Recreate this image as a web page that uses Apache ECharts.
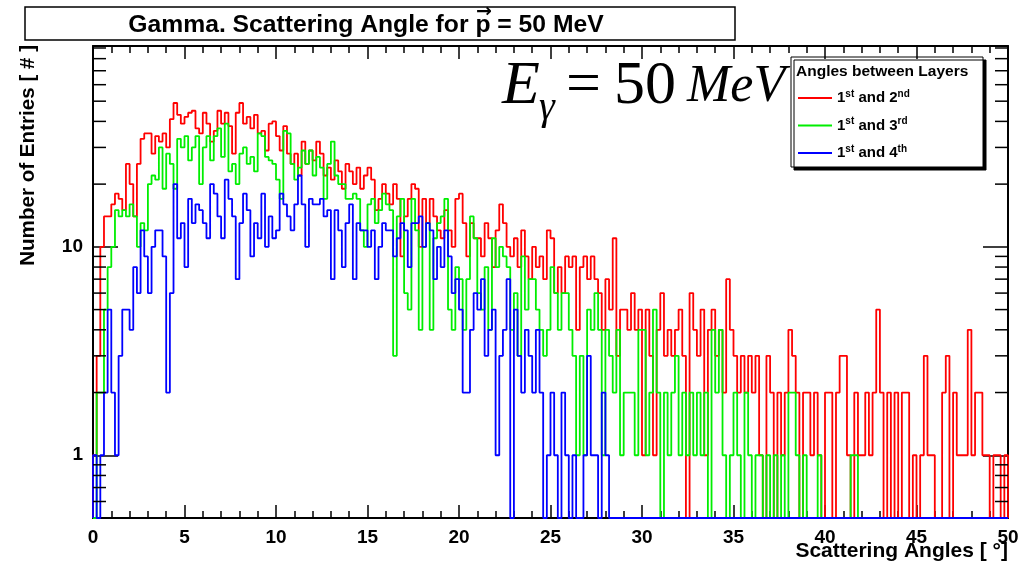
<!DOCTYPE html>
<html>
<head>
<meta charset="utf-8">
<script src="https://cdn.jsdelivr.net/npm/echarts@6/dist/echarts.min.js"></script>
<style>
html, body { margin: 0; padding: 0; background: #fff; }
#main { width: 1029px; height: 566px; }
</style>
</head>
<body>
<div id="main"></div>
<script>
// histogram binning: 250 bins of 0.2 deg over 0-50 deg
var angleMin = 0;
var angleMax = 50;
var binWidth = 0.2;
var yMin = 0.5;
var yMax = 92;

var seriesNames = ['1st and 2nd', '1st and 3rd', '1st and 4th'];

// entries per bin, layers 1-2
var counts12 = [
	1, 3, 10, 14, 14, 16, 18, 17, 15, 25,
	20, 14, 25, 33, 35, 35, 28, 34, 32, 35,
	30, 41, 49, 43, 39, 42, 44, 45, 37, 35,
	44, 39, 32, 36, 45, 39, 44, 38, 28, 44,
	49, 39, 42, 37, 43, 35, 36, 29, 39, 40,
	34, 29, 38, 28, 25, 28, 22, 32, 25, 29,
	26, 32, 28, 22, 24, 21, 26, 23, 19, 25,
	23, 20, 24, 19, 22, 24, 21, 15, 17, 20,
	18, 16, 20, 17, 9, 14, 17, 20, 19, 10,
	17, 13, 17, 14, 12, 11, 15, 12, 10, 17,
	18, 13, 9, 13, 11, 11, 9, 13, 11, 8,
	12, 16, 13, 10, 9, 11, 8, 12, 9, 7,
	10, 8, 9, 7, 12, 11, 6, 8, 6, 9,
	8, 9, 4, 8, 9, 7, 9, 7, 6, 4,
	7, 5, 11, 3, 5, 5, 4, 6, 4, 5,
	1, 5, 3, 1, 4, 6, 3, 4, 3, 4,
	5, 3, 0, 6, 4, 3, 5, 1, 4, 5,
	3, 4, 2, 7, 4, 3, 2, 3, 2, 3,
	2, 3, 1, 0, 3, 2, 0, 2, 1, 2,
	4, 3, 2, 0, 2, 2, 1, 2, 1, 0,
	2, 2, 0, 2, 3, 3, 1, 0, 2, 1,
	1, 2, 1, 2, 5, 2, 0, 2, 0, 2,
	0, 2, 2, 0, 1, 0, 1, 3, 1, 1,
	0, 0, 2, 3, 0, 2, 1, 1, 1, 4,
	1, 2, 2, 1, 1, 0, 1, 1, 0, 1
];

// entries per bin, layers 1-3
var counts13 = [
	0, 2, 2, 5, 8, 10, 15, 14, 15, 14,
	16, 14, 10, 13, 12, 20, 22, 21, 30, 19,
	28, 25, 19, 33, 30, 34, 26, 30, 34, 20,
	30, 34, 26, 34, 37, 27, 39, 23, 25, 20,
	28, 30, 25, 27, 23, 35, 34, 27, 26, 25,
	21, 17, 36, 35, 25, 21, 24, 29, 25, 29,
	22, 27, 24, 17, 25, 32, 22, 20, 20, 17,
	17, 18, 17, 12, 10, 16, 17, 13, 15, 18,
	16, 15, 3, 14, 17, 6, 5, 17, 12, 4,
	10, 13, 4, 11, 13, 14, 17, 5, 4, 8,
	7, 4, 7, 14, 11, 6, 5, 8, 4, 11,
	8, 10, 9, 8, 4, 6, 3, 9, 5, 7,
	7, 5, 4, 3, 4, 8, 6, 4, 6, 6,
	4, 3, 1, 3, 1, 5, 4, 6, 4, 1,
	4, 3, 2, 4, 1, 2, 2, 2, 1, 4,
	4, 1, 2, 5, 2, 0, 2, 1, 2, 3,
	1, 2, 1, 2, 1, 2, 1, 2, 0, 4,
	2, 4, 1, 0, 1, 2, 1, 0, 2, 1,
	0, 1, 1, 0, 1, 0, 1, 0, 1, 0,
	2, 2, 1, 0, 1, 0, 0, 0, 1, 0,
	0, 0, 0, 0, 0, 0, 0, 1, 1, 0,
	0, 0, 0, 0, 0, 0, 0, 0, 0, 0,
	0, 0, 0, 0, 0, 0, 0, 0, 0, 0,
	0, 0, 0, 0, 0, 0, 0, 0, 0, 0,
	0, 0, 0, 0, 0, 0, 0, 0, 0, 0
];

// entries per bin, layers 1-4
var counts14 = [
	1, 0, 1, 2, 5, 2, 1, 3, 5, 5,
	4, 8, 6, 12, 9, 6, 10, 12, 12, 9,
	2, 6, 20, 11, 13, 8, 17, 13, 16, 15,
	13, 11, 20, 18, 14, 11, 21, 17, 14, 7,
	13, 18, 15, 9, 13, 11, 18, 10, 14, 11,
	12, 18, 16, 14, 12, 16, 22, 16, 10, 17,
	16, 16, 17, 14, 15, 7, 15, 12, 8, 13,
	16, 7, 13, 12, 12, 10, 12, 7, 10, 13,
	12, 12, 9, 11, 13, 12, 8, 13, 13, 14,
	10, 13, 12, 7, 10, 8, 12, 9, 6, 7,
	5, 2, 2, 4, 6, 5, 7, 3, 4, 5,
	1, 3, 4, 7, 0, 5, 3, 2, 4, 3,
	2, 4, 2, 0, 1, 2, 1, 0, 2, 1,
	0, 1, 0, 0, 1, 3, 1, 1, 0, 2,
	1, 0, 0, 0, 0, 0, 0, 0, 0, 0,
	0, 0, 0, 0, 0, 0, 0, 0, 0, 0,
	0, 0, 0, 0, 0, 0, 0, 0, 0, 0,
	0, 0, 0, 0, 0, 0, 0, 0, 0, 0,
	0, 0, 0, 0, 0, 0, 0, 0, 0, 0,
	0, 0, 0, 0, 0, 0, 0, 0, 0, 0,
	0, 0, 0, 0, 0, 0, 0, 0, 0, 0,
	0, 0, 0, 0, 0, 0, 0, 0, 0, 0,
	0, 0, 0, 0, 0, 0, 0, 0, 0, 0,
	0, 0, 0, 0, 0, 0, 0, 0, 0, 0,
	0, 0, 0, 0, 0, 0, 0, 0, 0, 0
];

// log axis minor tick values (ROOT style 2..9 per decade)
var yMinorTicks = [0.6, 0.7, 0.8, 0.9, 2, 3, 4, 5, 6, 7, 8, 9, 20, 30, 40, 50, 60, 70, 80, 90];

var FONT = "'Liberation Sans', Arial, sans-serif";
var SERIF = "'Liberation Serif', 'Times New Roman', serif";

// outline of a histogram, empty bins drop to the bottom of the frame
function histLine(counts) {
	var pts = [[angleMin, yMin]];
	for (var i = 0; i < counts.length; i++) {
		pts.push([angleMin + i * binWidth, counts[i] > 0 ? counts[i] : yMin]);
	}
	var last = counts[counts.length - 1];
	pts.push([angleMax, last > 0 ? last : yMin]);
	pts.push([angleMax, yMin]);
	return pts;
}

function histSeries(name, counts, color) {
	return {
		name: name,
		type: 'line',
		step: 'end',
		data: histLine(counts),
		symbol: 'none',
		lineStyle: { color: color, width: 1.8 },
		itemStyle: { color: color },
		animation: false,
		z: 3
	};
}

// 1st -> 1{s|st}
function supText(name) {
	return name.replace(/(\d)(st|nd|rd|th)\b/g, '$1{s|$2}');
}

function xAxisCfg(pos, showLabel) {
	return {
		type: 'value',
		position: pos,
		min: angleMin,
		max: angleMax,
		interval: 5,
		axisLine: { show: true, onZero: false, lineStyle: { color: '#000', width: 2 } },
		axisTick: { inside: true, length: 13, lineStyle: { color: '#000', width: 1.5 } },
		minorTick: { show: true, splitNumber: 5, length: 7, lineStyle: { color: '#000', width: 1.5 } },
		axisLabel: {
			show: showLabel, color: '#000', fontFamily: FONT, fontWeight: 'bold',
			fontSize: 19, margin: 10
		},
		splitLine: { show: false },
		minorSplitLine: { show: false }
	};
}

function yAxisCfg(pos, showLabel) {
	return {
		type: 'log',
		logBase: 10,
		position: pos,
		min: yMin,
		max: yMax,
		axisLine: { show: true, onZero: false, lineStyle: { color: '#000', width: 2 } },
		axisTick: { inside: true, length: 25, lineStyle: { color: '#000', width: 1.5 } },
		axisLabel: {
			show: showLabel, showMinLabel: false, showMaxLabel: false,
			color: '#000', fontFamily: FONT, fontWeight: 'bold', fontSize: 19, margin: 10
		},
		splitLine: { show: false }
	};
}

// title split in pieces so the vector arrow can sit over the p
var titleFont = 'bold 24.7px ' + FONT;
var titleA = 'Gamma. Scattering Angle for ';
var titleP = 'p';
var titleB = ' = 50 MeV';
var mctx = document.createElement('canvas').getContext('2d');
mctx.font = titleFont;
var wA = mctx.measureText(titleA).width;
var wP = mctx.measureText(titleP).width;
var wB = mctx.measureText(titleB).width;
var titleX = 366 - (wA + wP + wB) / 2;

var chart = echarts.init(document.getElementById('main'));

chart.setOption({
	backgroundColor: '#fff',
	animation: false,
	grid: { left: 93, right: 21, top: 46, bottom: 48, containLabel: false },
	xAxis: [xAxisCfg('bottom', true), xAxisCfg('top', false)],
	yAxis: [yAxisCfg('left', true), yAxisCfg('right', false)],
	legend: {
		data: seriesNames,
		orient: 'vertical',
		left: 798,
		top: 89,
		padding: 0,
		itemGap: 9.5,
		itemWidth: 34,
		itemHeight: 2,
		icon: 'rect',
		selectedMode: false,
		formatter: supText,
		textStyle: {
			color: '#000', fontFamily: FONT, fontWeight: 'bold', fontSize: 15, lineHeight: 18,
			rich: {
				s: { fontFamily: FONT, fontWeight: 'bold', fontSize: 10, lineHeight: 10, verticalAlign: 'top', color: '#000' }
			}
		}
	},
	graphic: [
		// title box
		{ type: 'rect', shape: { x: 25, y: 7, width: 710, height: 33 }, style: { fill: '#fff', stroke: '#000', lineWidth: 1.5 } },
		{ type: 'text', x: titleX, y: 25, style: { text: titleA, font: titleFont, fill: '#000', align: 'left', verticalAlign: 'middle' } },
		{ type: 'text', x: titleX + wA, y: 25, style: { text: titleP, font: titleFont, fill: '#000', align: 'left', verticalAlign: 'middle' } },
		{ type: 'text', x: titleX + wA + wP / 2 + 1, y: 12, style: { text: '\u2192', font: "bold 19px 'DejaVu Sans', sans-serif", fill: '#000', align: 'center', verticalAlign: 'middle' } },
		{ type: 'text', x: titleX + wA + wP, y: 25, style: { text: titleB, font: titleFont, fill: '#000', align: 'left', verticalAlign: 'middle' } },
		// legend frame with ROOT shadow
		{ type: 'rect', shape: { x: 791, y: 57, width: 192, height: 110 }, style: { fill: '#fff', stroke: '#000', lineWidth: 1, shadowBlur: 0, shadowOffsetX: 3, shadowOffsetY: 3, shadowColor: '#000' } },
		{ type: 'text', x: 796, y: 72, style: { text: 'Angles between Layers', font: 'bold 15.5px ' + FONT, fill: '#000', align: 'left', verticalAlign: 'middle' } },
		// E_gamma = 50 MeV
		{ type: 'text', x: 502, y: 87, style: { text: 'E', font: 'italic 62px ' + SERIF, fill: '#000', align: 'left', verticalAlign: 'middle' } },
		{ type: 'text', x: 539, y: 108, style: { text: '\u03b3', font: 'italic 40px ' + SERIF, fill: '#000', align: 'left', verticalAlign: 'middle' } },
		{ type: 'text', x: 566, y: 87, style: { text: '=', font: '62px ' + SERIF, fill: '#000', align: 'left', verticalAlign: 'middle' } },
		{ type: 'text', x: 614, y: 87, style: { text: '50', font: '62px ' + SERIF, fill: '#000', align: 'left', verticalAlign: 'middle' } },
		{ type: 'text', x: 687, y: 87, style: { text: 'MeV', font: 'italic 52px ' + SERIF, fill: '#000', align: 'left', verticalAlign: 'middle' } },
		// axis titles
		{ type: 'text', x: 1008, y: 541, style: { text: 'Scattering Angles [ \u00b0]', font: 'bold 21px ' + FONT, fill: '#000', align: 'right', verticalAlign: 'top' } },
		{ type: 'text', x: 28, y: 45, rotation: Math.PI / 2, style: { text: 'Number of Entries [ # ]', font: 'bold 20.6px ' + FONT, fill: '#000', align: 'right', verticalAlign: 'middle' } }
	],
	series: [
		histSeries(seriesNames[0], counts12, '#ff0000'),
		histSeries(seriesNames[1], counts13, '#00ee00'),
		histSeries(seriesNames[2], counts14, '#0000ff'),
		{
			type: 'custom',
			silent: true,
			animation: false,
			clip: false,
			z: 4,
			data: yMinorTicks.map(function (v) { return [angleMin, v]; }),
			renderItem: function (params, api) {
				var v = api.value(1);
				var l = api.coord([angleMin, v]);
				var r = api.coord([angleMax, v]);
				var st = { stroke: '#000', lineWidth: 1.5 };
				return {
					type: 'group',
					children: [
						{ type: 'line', shape: { x1: l[0], y1: l[1], x2: l[0] + 13, y2: l[1] }, style: st },
						{ type: 'line', shape: { x1: r[0] - 13, y1: r[1], x2: r[0], y2: r[1] }, style: st }
					]
				};
			}
		}
	]
});
</script>
</body>
</html>
